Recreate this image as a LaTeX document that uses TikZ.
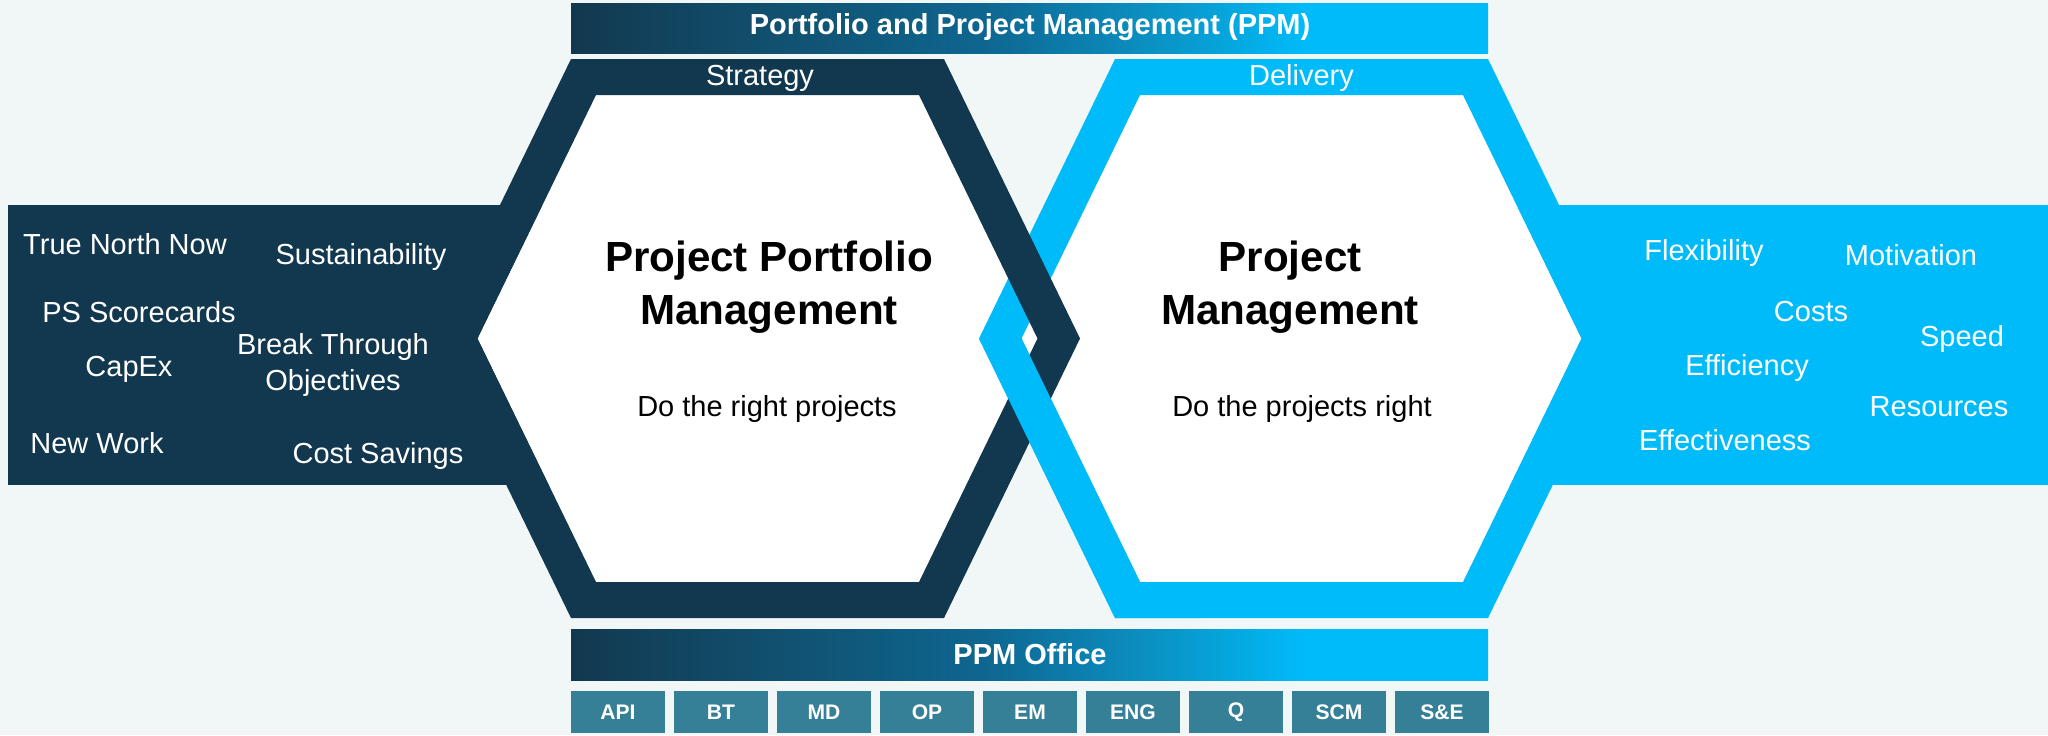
\documentclass[tikz,border=0pt]{standalone}
\usepackage{fontspec}
\setmainfont{Liberation Sans}
\usepackage{tikz}
\usetikzlibrary{positioning}

\definecolor{ppmnavy}{HTML}{12384F}
\definecolor{ppmcyan}{HTML}{00BBF9}
\definecolor{ppmteal}{HTML}{357F97}
\definecolor{ppmbg}{HTML}{F1F7F7}
\definecolor{ppmmidA}{HTML}{114E6C}
\definecolor{ppmmidB}{HTML}{0E6690}
\definecolor{ppmmidC}{HTML}{0A95C8}

% dark to bright bar, path is mapped to 25bp--75bp
\pgfdeclarehorizontalshading{ppmbar}{100bp}{color(0bp)=(ppmnavy); color(25bp)=(ppmnavy); color(35bp)=(ppmmidA); color(47.5bp)=(ppmmidB); color(57.5bp)=(ppmmidC); color(65bp)=(ppmcyan); color(100bp)=(ppmcyan)}

% hexagon around (#1,338.5): half top width #2, half height #3
\newcommand{\hexpath}[3]{({#1-#2},{338.5-#3}) -- ({#1+#2},{338.5-#3}) -- ({#1+#2+0.4866*#3},338.5) -- ({#1+#2},{338.5+#3}) -- ({#1-#2},{338.5+#3}) -- ({#1-#2-0.4866*#3},338.5) -- cycle}

\tikzset{
  sidetext/.style={text=white, font=\fontsize{16.5}{20}\selectfont, align=center, inner sep=0pt},
  bartext/.style={text=white, font=\fontsize{16.5}{20}\selectfont\bfseries, inner sep=0pt},
  hextitle/.style={text=black, font=\fontsize{24}{30}\selectfont\bfseries, align=center, inner sep=0pt},
  hexsub/.style={text=black, font=\fontsize{16.5}{20}\selectfont, inner sep=0pt},
  unitbox/.style={fill=ppmteal, text=white, font=\fontsize{12}{14}\selectfont\bfseries, minimum width=1.88cm, minimum height=0.84cm, inner sep=0pt}
}

\begin{document}
\begin{tikzpicture}[x=0.02cm, y=-0.02cm]
    % background
    \fill[ppmbg] (0,0) rectangle (2048,735);
    \useasboundingbox (0,0) rectangle (2048,735);

    % top bar
    \shade[shading=ppmbar] (571,3) rectangle (1488,53);
    \node[bartext] (ppm) at (1030,27.5) {Portfolio and Project Management (PPM)};

    % side panels
    \fill[ppmnavy] (8,205) rectangle (757.5,485);
    \fill[ppmcyan] (1301.5,205) rectangle (2048,485);

    % white insides
    \fill[white] \hexpath{757.5}{161.5}{243.5};
    \fill[white] \hexpath{1301.5}{161.5}{243.5};

    % the two rings, dark over bright at the upper crossing
    \fill[ppmcyan, even odd rule] \hexpath{1301.5}{186.5}{279.5} \hexpath{1301.5}{161.5}{243.5};
    \fill[ppmnavy, even odd rule] \hexpath{757.5}{186.5}{279.5} \hexpath{757.5}{161.5}{243.5};

    % bright over dark at the lower crossing
    \begin{scope}
        \clip (900,338.5) rectangle (1200,735);
        \fill[ppmcyan, even odd rule] \hexpath{1301.5}{186.5}{279.5} \hexpath{1301.5}{161.5}{243.5};
    \end{scope}

    % ring labels
    \node[sidetext] (strategy) at (760,78) {Strategy};
    \node[sidetext] (delivery) at (1301.5,78) {Delivery};

    % hexagon texts
    \node[hextitle] (ppmtitle) at (769,287) {Project Portfolio\\Management};
    \node[hexsub] (rightprojects) at (767,409) {Do the right projects};
    \node[hextitle] (pmtitle) at (1290,287) {Project\\Management};
    \node[hexsub] (projectsright) at (1302,409) {Do the projects right};

    % left panel
    \node[sidetext] (truenorth) at (125,244) {True North Now};
    \node[sidetext] (sustain) at (361,257) {Sustainability};
    \node[sidetext] (scorecards) at (139,312) {PS Scorecards};
    \node[sidetext] (breakthrough) at (333,365) {Break Through\\Objectives};
    \node[sidetext] (capex) at (129,369) {CapEx};
    \node[sidetext] (newwork) at (97,443) {New Work};
    \node[sidetext] (savings) at (378,456) {Cost Savings};

    % right panel
    \node[sidetext] (flex) at (1704,253) {Flexibility};
    \node[sidetext] (motivation) at (1911,255) {Motivation};
    \node[sidetext] (costs) at (1811,312) {Costs};
    \node[sidetext] (speed) at (1962,339) {Speed};
    \node[sidetext] (efficiency) at (1747,368) {Efficiency};
    \node[sidetext] (resources) at (1939,407) {Resources};
    \node[sidetext] (effective) at (1725,440) {Effectiveness};

    % bottom bar
    \shade[shading=ppmbar] (571,629) rectangle (1488,680);
    \node[bartext] (office) at (1030,654.5) {PPM Office};

    % units
    \foreach \lbl [count=\i from 0] in {API,BT,MD,OP,EM,ENG,Q,SCM,S\&E}
        \node[unitbox] (unit\i) at ({618+103*\i},712) {\lbl};
\end{tikzpicture}
\end{document}
